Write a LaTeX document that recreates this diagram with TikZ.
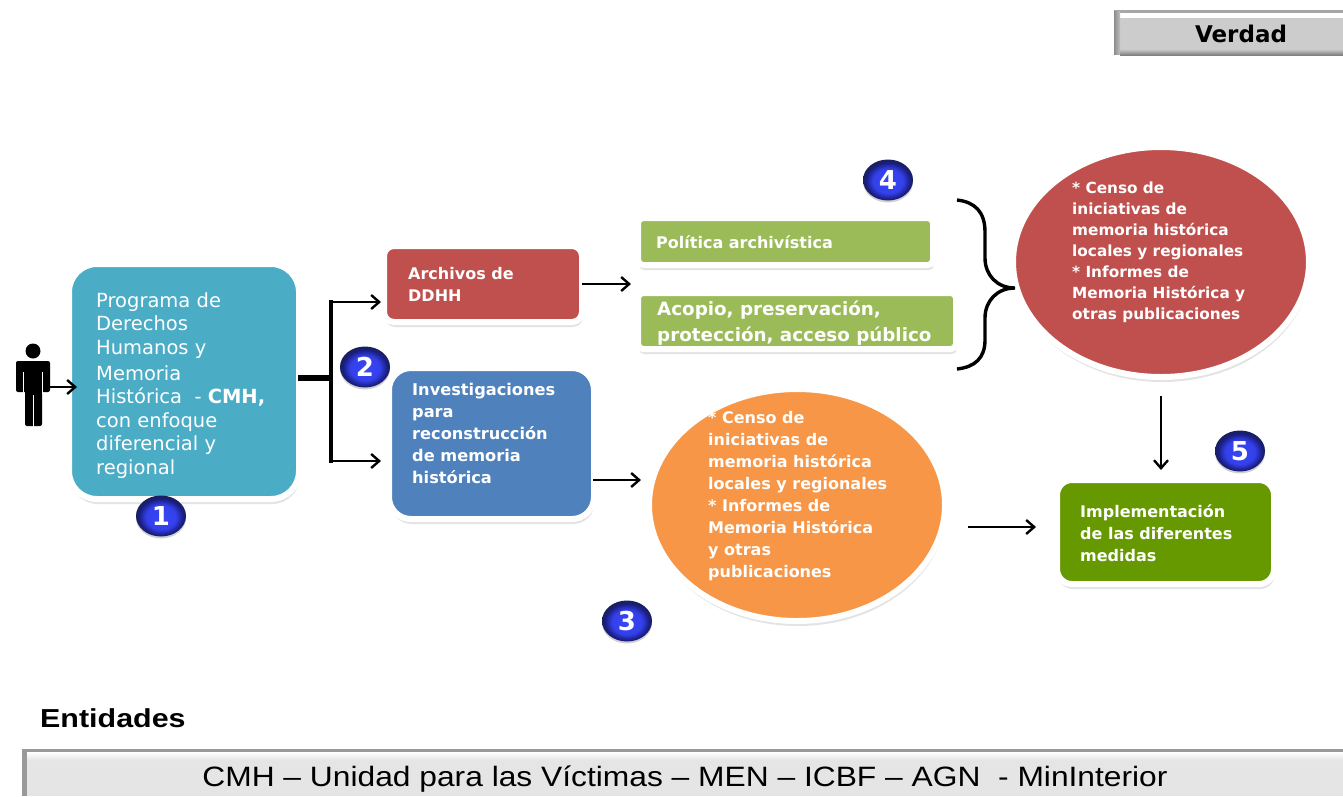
\documentclass[tikz,border=0pt]{standalone}
\usepackage{fontspec}
\setmainfont{DejaVu Sans}
\newfontfamily\arialf{Liberation Sans}
\usetikzlibrary{shadows,shapes.geometric,arrows.meta}
\definecolor{cTeal}{HTML}{4BACC6}
\definecolor{cRed}{HTML}{C0504D}
\definecolor{cBlue}{HTML}{4F81BD}
\definecolor{cGreen}{HTML}{9BBB59}
\definecolor{cOrange}{HTML}{F79646}
\definecolor{cDark}{HTML}{669900}
\pgfdeclareradialshading{badgeball}{\pgfpoint{0bp}{-2bp}}{rgb(0bp)=(0.22,0.28,0.95);rgb(15bp)=(0.2,0.25,0.92);rgb(22bp)=(0.1,0.12,0.5);rgb(26bp)=(0.1,0.12,0.35);rgb(50bp)=(0.1,0.12,0.35)}
\tikzset{
  halo/.style={draw=white,line width=6pt,drop shadow={shadow xshift=1pt,shadow yshift=-5pt,opacity=.18,fill=black!60}},
  box/.style={rectangle,halo,inner sep=0pt,anchor=north west},
  oval/.style={ellipse,halo,inner sep=0pt,anchor=center},
  lbl/.style={text=white,align=left,inner sep=0pt,anchor=north west},
  conn/.style={draw=black,line width=2.8pt,-{Straight Barb[length=8pt,width=14pt,line width=2.4pt]}},
  badge/.style={ellipse,minimum width=50pt,minimum height=41pt,inner sep=0pt,shading=badgeball,text=white,font=\bfseries\fontsize{26}{26}\selectfont,
    drop shadow={shadow xshift=0pt,shadow yshift=-2pt,opacity=.3,fill=black!60}}
}
\begin{document}
\begin{tikzpicture}[x=1pt,y=-1pt]
\path[use as bounding box,fill=white] (0,0) rectangle (1343,796);
% top bevel bar
\fill[black!35] (1114,10) rectangle (1343,55);
\fill[black!20] (1120,16) rectangle (1343,49);
\fill[white] (1120,13) rectangle (1343,18);
\shade[top color=black!20,bottom color=black!50] (1120,49) rectangle (1343,55);
\shade[left color=black!45,right color=black!25] (1114,11) rectangle (1120,54);
\node[inner sep=0pt,font=\bfseries\fontsize{23}{23}\selectfont] (verdad) at (1241,34) {Verdad};
% person
\fill[black] (33,351) circle (7.5);
\fill[black,rounded corners=2pt] (16,361) rectangle (50,392);
\fill[black,rounded corners=2pt] (25,380) rectangle (42,426);
\draw[white,line width=1.5pt] (23.5,372) -- (23.5,394) (42.5,372) -- (42.5,394) (33.5,395) -- (33.5,427);
% boxes
\node[box,minimum width=230pt,minimum height=235pt,rounded corners=28pt,fill=cTeal] (prog) at (66,261) {};
\node[box,minimum width=198pt,minimum height=76pt,rounded corners=10pt,fill=cRed] (arch) at (381,243) {};
\node[box,minimum width=205pt,minimum height=151pt,rounded corners=22pt,fill=cBlue] (inv) at (386,365) {};
\node[box,minimum width=295pt,minimum height=47pt,rounded corners=5pt,fill=cGreen] (pol) at (635,215) {};
\node[box,minimum width=318pt,minimum height=56pt,rounded corners=5pt,fill=cGreen] (aco) at (635,290) {};
\node[oval,minimum width=296pt,minimum height=230pt,fill=cRed] (redc) at (1161,262) {};
\node[oval,minimum width=296pt,minimum height=232pt,fill=cOrange] (orc) at (797,505) {};
\node[box,minimum width=217pt,minimum height=104pt,rounded corners=15pt,fill=cDark] (impl) at (1054,477) {};
% labels
\node[lbl,font=\fontsize{19.5}{23.5}\selectfont] (progt) at (96,292) {Programa de\\Derechos\\Humanos y\\[2.5pt]Memoria\\Histórica\ \ - \textbf{CMH,}\\con enfoque\\diferencial y\\regional};
\node[lbl,font=\bfseries\fontsize{16}{22}\selectfont] (archt) at (408,267) {Archivos de\\DDHH};
\node[lbl,font=\bfseries\fontsize{16.2}{22}\selectfont] (invt) at (412,383) {Investigaciones\\para\\reconstrucción\\de memoria\\histórica};
\node[lbl,font=\bfseries\fontsize{16}{16}\selectfont] (polt) at (656,235) {Política archivística};
\node[lbl,font=\bfseries\fontsize{18.3}{25.5}\selectfont] (acot) at (657,301) {Acopio, preservación,\\protección, acceso público};
\node[lbl,font=\bfseries\fontsize{15.3}{21}\selectfont] (redt) at (1072,182) {* Censo de\\iniciativas de\\memoria histórica\\locales y regionales\\* Informes de\\Memoria Histórica y\\otras publicaciones};
\node[lbl,font=\bfseries\fontsize{16}{22}\selectfont] (ort) at (708,411) {* Censo de\\iniciativas de\\memoria histórica\\locales y regionales\\* Informes de\\Memoria Histórica\\y otras\\publicaciones};
\node[lbl,font=\bfseries\fontsize{16}{22}\selectfont] (implt) at (1080,504) {Implementación\\de las diferentes\\medidas};
% connector coordinates
\coordinate (pe) at (50,387);
\coordinate (pa) at (77,387);
\coordinate (j) at (331,378);
\coordinate (ja) at (331,302);
\coordinate (jb) at (331,461);
\coordinate (ae) at (631,284);
\coordinate (ie) at (641,480);
\coordinate (oa) at (968,527);
\coordinate (ob) at (1036,527);
\coordinate (ra) at (1161,396);
\coordinate (rb) at (1161,470);
\coordinate (bt) at (957,200);
\coordinate (bb) at (957,369);
\coordinate (bm) at (1015,288);
% connectors
\draw[conn] (pe) -- (pa);
\draw[black,line width=5.5pt] ([xshift=-4pt]prog.east |- j) -- (j);
\draw[black,line width=4.4pt,line cap=rect] (ja) -- (jb);
\draw[conn] (ja) -- (arch.west |- ja);
\draw[conn] (jb) -- (arch.west |- jb);
\draw[conn] ([xshift=-3pt]arch.east) -- (ae);
\draw[conn] ([xshift=-4pt]inv.east |- ie) -- (ie);
\draw[conn] (oa) -- (ob);
\draw[conn] (ra) -- (rb);
% brace
\draw[black,line width=3.4pt] (bt) .. controls (975,202) and (985,212) .. (985,232) -- (985,258)
  .. controls (985,275) and (997,288) .. (bm)
  .. controls (997,288) and (985,301) .. (985,318) -- (985,340)
  .. controls (985,358) and (975,367) .. (bb);
% badges
\node[badge] (b1) at (161,516) {1};
\node[badge] (b2) at (365,367) {2};
\node[badge] (b3) at (627,621) {3};
\node[badge] (b4) at (888,180) {4};
\node[badge] (b5) at (1240,451) {5};
% entidades
\node[anchor=west,inner sep=0pt,font=\arialf\bfseries\fontsize{26}{26}\selectfont] (ent) at (40,718) {\scalebox{1.17}[1]{Entidades}};
\fill[black!40] (22,749) rectangle (1343,796);
\fill[black!10] (27,752) rectangle (1343,796);
\shade[top color=white,bottom color=black!10] (27,752) rectangle (1343,760);
\node[inner sep=0pt,font=\arialf\fontsize{28}{28}\selectfont] (cmh) at (685,779) {\scalebox{1.134}[1]{CMH – Unidad para las Víctimas – MEN – ICBF – AGN\ \ - MinInterior}};
\end{tikzpicture}
\end{document}
